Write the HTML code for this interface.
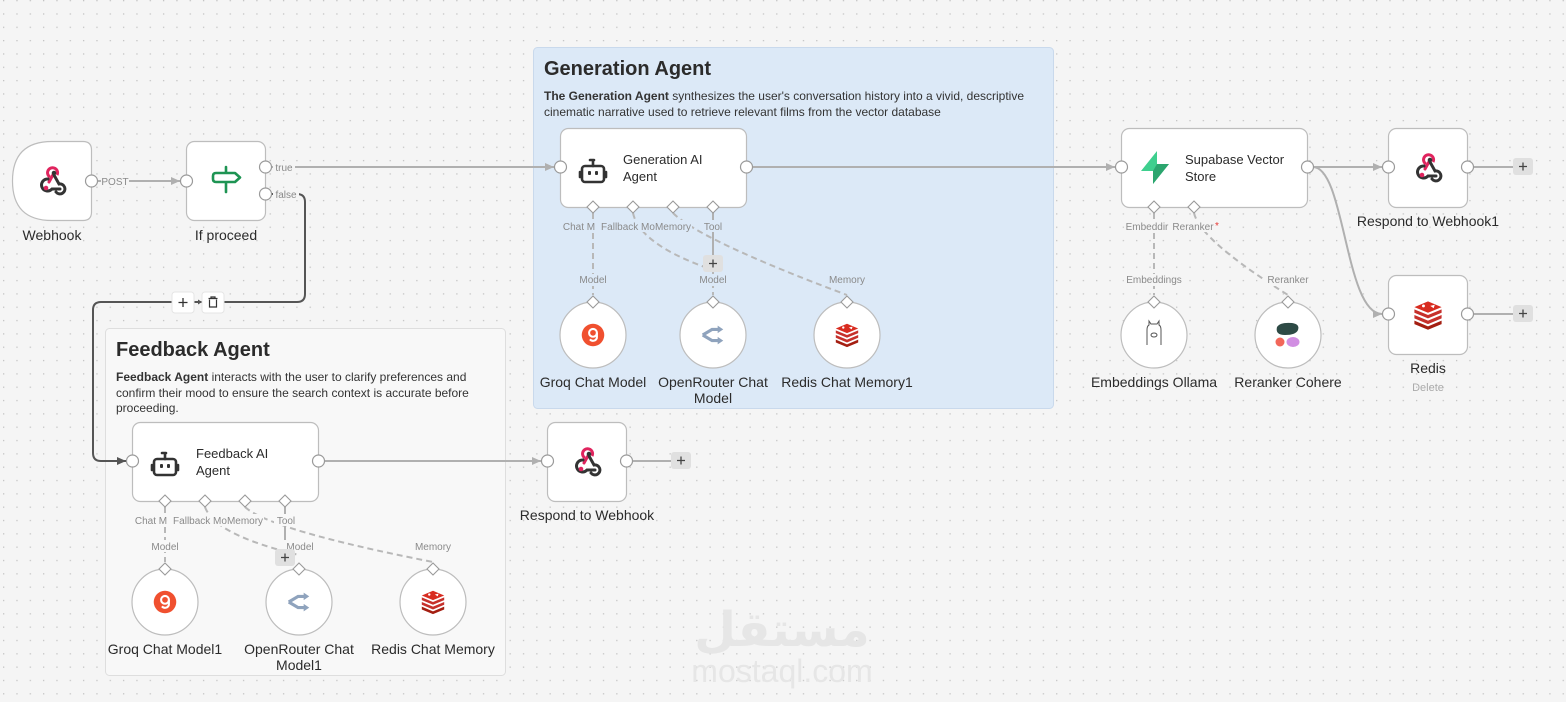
<!DOCTYPE html>
<html><head><meta charset="utf-8"><style>
html,body{margin:0;padding:0;background:#f5f5f5;}
svg{display:block;font-family:"Liberation Sans","DejaVu Sans","Noto Sans CJK SC",sans-serif;}
.nl{font-size:14px;fill:#2b2b2b;text-anchor:middle;}
.pl{font-size:10px;fill:#8a8a8a;text-anchor:middle;}
.node{fill:#fff;stroke:#bdbdbd;stroke-width:1.2;}
.port{fill:#fff;stroke:#9a9a9a;stroke-width:1.2;}
.dia{fill:#fff;stroke:#9a9a9a;stroke-width:1.1;}
.cn{fill:none;stroke:#b0b0b0;stroke-width:2;}
.dash{fill:none;stroke:#b8b8b8;stroke-width:2;stroke-dasharray:6,4;}
</style></head><body>
<svg width="1566" height="702" viewBox="0 0 1566 702" xmlns="http://www.w3.org/2000/svg">
<defs>
<pattern id="dots" x="3" y="0" width="13.33" height="13.33" patternUnits="userSpaceOnUse"><rect x="0" y="0" width="1.3" height="1.3" fill="#c4c4c4"/></pattern>
<symbol id="wh" viewBox="0 0 30 30">
  <path d="M12 16 L17 7" stroke="#e0245e" stroke-width="3" fill="none" stroke-linecap="round"/>
  <path d="M13 11 A5 5 0 1 1 20 9" stroke="#e0245e" stroke-width="3" fill="none"/>
  <circle cx="17" cy="7" r="2.3" fill="#333"/>
  <path d="M11 13 A6 6 0 1 0 15 23 L23 23" stroke="#333" stroke-width="3" fill="none" stroke-linecap="round"/>
  <path d="M17 9 L22 18 A5 5 0 1 1 19 26" stroke="#333" stroke-width="3" fill="none" stroke-linecap="round"/>
  <circle cx="9" cy="22" r="2.3" fill="#e0245e"/>
</symbol>
<symbol id="bot" viewBox="0 0 30 30">
  <rect x="4" y="10" width="22" height="16" rx="3" fill="none" stroke="#333" stroke-width="2.6"/>
  <path d="M15 10 V5 M12 4 H16" stroke="#333" stroke-width="2.6" fill="none" stroke-linecap="round"/>
  <path d="M2 16 V21 M28 16 V21" stroke="#333" stroke-width="2.6" stroke-linecap="round"/>
  <rect x="10" y="15" width="3" height="4" rx="1" fill="#333"/><rect x="17" y="15" width="3" height="4" rx="1" fill="#333"/>
</symbol>
<symbol id="groq" viewBox="0 0 30 30">
  <circle cx="15" cy="15" r="13" fill="#f0502f"/>
  <circle cx="15" cy="12.5" r="4.5" fill="none" stroke="#fff" stroke-width="2.4"/>
  <path d="M19.5 12.5 V17 A4.5 4.5 0 0 1 11.5 20" fill="none" stroke="#fff" stroke-width="2.4"/>
</symbol>
<symbol id="or" viewBox="0 0 30 30">
  <path d="M4 15 L14 9 H22 M4 15 L14 21 H22" fill="none" stroke="#8fa3bd" stroke-width="3.4"/>
  <path d="M20 5 L26 9 L20 13 Z M20 17 L26 21 L20 25 Z" fill="#8fa3bd"/>
</symbol>
<symbol id="redis" viewBox="0 0 30 30">
  <path d="M3 20 L15 25 L27 20 V23 L15 28 L3 23Z" fill="#a41e11"/>
  <path d="M3 15 L15 20 L27 15 V18 L15 23 L3 18Z" fill="#c6302b"/>
  <path d="M3 10 L15 15 L27 10 V13 L15 18 L3 13Z" fill="#c6302b"/>
  <path d="M3 8 L15 3 L27 8 L15 13Z" fill="#d82c20"/>
  <circle cx="11" cy="7" r="1.3" fill="#fff"/><path d="M17 7 L21 6 L20 9Z" fill="#fff"/>
</symbol>
<symbol id="plus" viewBox="0 0 20 20"><rect x="0" y="0" width="20" height="17" rx="3" fill="#e0e0e0"/><path d="M10 4.5 V12.5 M6 8.5 H14" stroke="#444" stroke-width="1.3"/></symbol>
<marker id="ar" markerWidth="10" markerHeight="10" refX="9" refY="5" orient="auto" markerUnits="userSpaceOnUse"><path d="M0 1 L9 5 L0 9Z" fill="#b0b0b0"/></marker>
<marker id="ard" markerWidth="10" markerHeight="10" refX="9" refY="5" orient="auto" markerUnits="userSpaceOnUse"><path d="M0 1 L9 5 L0 9Z" fill="#555"/></marker>
</defs>
<rect width="1566" height="702" fill="#f5f5f5"/>
<rect width="1566" height="702" fill="url(#dots)"/>

<!-- watermark -->
<text x="782" y="646" font-size="48" font-weight="bold" fill="#e6e6e6" text-anchor="middle" font-family="'DejaVu Sans',sans-serif">مستقل</text>
<text x="782" y="682" font-size="32" fill="#e6e6e6" text-anchor="middle">mostaql.com</text>

<!-- stickies -->
<rect x="533.5" y="47.5" width="520" height="361" rx="4" fill="#dce9f7" stroke="#c9d9ec"/>
<text x="544" y="75" font-size="20" font-weight="bold" fill="#2b2b2b">Generation Agent</text>
<text x="544" y="100" font-size="12" fill="#333"><tspan font-weight="bold">The Generation Agent</tspan> synthesizes the user's conversation history into a vivid, descriptive</text>
<text x="544" y="116" font-size="12" fill="#333">cinematic narrative used to retrieve relevant films from the vector database</text>

<rect x="105.5" y="328.5" width="400" height="347" rx="4" fill="#f8f8f8" stroke="#dedede"/>
<text x="116" y="356" font-size="20" font-weight="bold" fill="#2b2b2b">Feedback Agent</text>
<text x="116" y="381" font-size="12" fill="#333"><tspan font-weight="bold">Feedback Agent</tspan> interacts with the user to clarify preferences and</text>
<text x="116" y="397" font-size="12" fill="#333">confirm their mood to ensure the search context is accurate before</text>
<text x="116" y="412" font-size="12" fill="#333">proceeding.</text>

<!-- main connections -->
<path class="cn" d="M97 181 H180" marker-end="url(#ar)"/>
<path class="cn" d="M271 167 H554" marker-end="url(#ar)"/>
<path d="M271 194 H297 Q305 194 305 202 V294 Q305 302 297 302 H101 Q93 302 93 310 V453 Q93 461 101 461 H126" fill="none" stroke="#555" stroke-width="2" marker-end="url(#ard)"/>
<path class="cn" d="M752 167 H1115" marker-end="url(#ar)"/>
<path class="cn" d="M1313 167 H1382" marker-end="url(#ar)"/>
<path class="cn" d="M1313 167 C1345 167 1345 314 1382 314" marker-end="url(#ar)"/>
<path class="cn" d="M1473 167 H1514"/>
<path class="cn" d="M1473 314 H1514"/>
<path class="cn" d="M324 461 H541" marker-end="url(#ar)"/>
<path class="cn" d="M632 461 H672"/>
<use href="#plus" x="1513" y="158" width="20" height="20"/>
<use href="#plus" x="1513" y="305" width="20" height="20"/>
<use href="#plus" x="671" y="452" width="20" height="20"/>
<!-- + / trash -->
<rect x="172" y="292" width="22" height="21" rx="3" fill="#fff" stroke="#e5e5e5"/>
<path d="M183 298 V307 M178.5 302.5 H187.5" stroke="#333" stroke-width="1.3"/>
<path d="M202 302 L198 299.5 V304.5Z" fill="#555"/>
<rect x="202" y="292" width="22" height="21" rx="3" fill="#fff" stroke="#e5e5e5"/>
<path d="M208.5 298.5 H217.5 M211 298.5 V297 H215 V298.5 M209.5 299.5 V307 H216.5 V299.5" stroke="#333" stroke-width="1.2" fill="none"/>

<!-- port labels on main -->
<rect x="101" y="175" width="28" height="12" fill="#f5f5f5"/><text class="pl" x="115" y="185">POST</text>
<rect x="273" y="161" width="22" height="12" fill="#f5f5f5"/><text class="pl" x="284" y="171">true</text>
<rect x="273" y="188" width="26" height="12" fill="#f5f5f5"/><text class="pl" x="286" y="198">false</text>

<!-- Webhook -->
<path class="node" d="M52 141.5 H83 Q91.5 141.5 91.5 150 V212 Q91.5 220.5 83 220.5 H52 Q12.5 220.5 12.5 181 Q12.5 141.5 52 141.5Z"/>
<use href="#wh" x="37" y="166" width="30" height="30"/>
<circle class="port" cx="91.5" cy="181" r="6"/>
<text class="nl" x="52" y="240">Webhook</text>

<!-- If -->
<rect class="node" x="186.5" y="141.5" width="79" height="79" rx="8"/>
<path d="M213 176 Q213 173 216 173 H235 L240 177.5 L235 182 H216 Q213 182 213 179Z M226 167 V173 M226 182 V192" fill="none" stroke="#1e9453" stroke-width="2.6" stroke-linejoin="round" stroke-linecap="round"/>
<circle class="port" cx="186.5" cy="181" r="6"/>
<circle class="port" cx="265.5" cy="167" r="6"/>
<circle class="port" cx="265.5" cy="194" r="6"/>
<text class="nl" x="226" y="240">If proceed</text>

<!-- Generation AI Agent -->
<path class="dash" d="M593 213 V295"/>
<path class="dash" d="M633 213 Q640 245 713 270"/>
<path class="dash" d="M673 213 Q700 240 847 295"/>
<path d="M713 213 V256" stroke="#b0b0b0" stroke-width="2"/>
<path class="dash" d="M713 272 V295"/>
<rect class="node" x="560.5" y="128.5" width="186" height="79" rx="8"/>
<use href="#bot" x="578" y="156" width="30" height="30"/>
<text x="623" y="164" font-size="13" fill="#2b2b2b">Generation AI</text>
<text x="623" y="181" font-size="13" fill="#2b2b2b">Agent</text>
<circle class="port" cx="560.5" cy="167" r="6"/>
<circle class="port" cx="746.5" cy="167" r="6"/>
<g class="dia"><path d="M593 201 L599 207 L593 213 L587 207Z"/><path d="M633 201 L639 207 L633 213 L627 207Z"/><path d="M673 201 L679 207 L673 213 L667 207Z"/><path d="M713 201 L719 207 L713 213 L707 207Z"/></g>
<rect x="562" y="220" width="130" height="12" fill="#dce9f7"/>
<text class="pl" x="579" y="230">Chat M</text><text class="pl" x="628" y="230">Fallback Mo</text><text class="pl" x="673" y="230">Memory</text>
<rect x="702" y="220" width="22" height="12" fill="#dce9f7"/><text class="pl" x="713" y="230">Tool</text>
<use href="#plus" x="703" y="255" width="20" height="20"/>
<rect x="576" y="274" width="34" height="12" fill="#dce9f7"/><text class="pl" x="593" y="283">Model</text>
<rect x="696" y="274" width="34" height="12" fill="#dce9f7"/><text class="pl" x="713" y="283">Model</text>
<rect x="826" y="274" width="42" height="12" fill="#dce9f7"/><text class="pl" x="847" y="283">Memory</text>

<circle class="node" cx="593" cy="335" r="33"/><use href="#groq" x="580" y="322" width="26" height="26"/>
<circle class="node" cx="713" cy="335" r="33"/><use href="#or" x="699" y="321" width="28" height="28"/>
<circle class="node" cx="847" cy="335" r="33"/><use href="#redis" x="833" y="321" width="28" height="28"/>
<g class="dia"><path d="M593 296 L599 302 L593 308 L587 302Z"/><path d="M713 296 L719 302 L713 308 L707 302Z"/><path d="M847 296 L853 302 L847 308 L841 302Z"/></g>
<text class="nl" x="593" y="387">Groq Chat Model</text>
<text class="nl" x="713" y="387">OpenRouter Chat</text><text class="nl" x="713" y="403">Model</text>
<text class="nl" x="847" y="387">Redis Chat Memory1</text>

<!-- Supabase -->
<path class="dash" d="M1154 213 V295"/>
<path class="dash" d="M1194 213 Q1200 240 1288 295"/>
<rect class="node" x="1121.5" y="128.5" width="186" height="79" rx="8"/>
<path d="M1157 151 L1141 171 H1153 V184 L1169 164 H1157Z" fill="#3ecf8e"/>
<path d="M1153 171 V184 L1169 164 H1157Z" fill="#249361" opacity="0.7"/>
<text x="1185" y="164" font-size="13" fill="#2b2b2b">Supabase Vector</text>
<text x="1185" y="181" font-size="13" fill="#2b2b2b">Store</text>
<circle class="port" cx="1121.5" cy="167" r="6"/>
<circle class="port" cx="1307.5" cy="167" r="6"/>
<g class="dia"><path d="M1154 201 L1160 207 L1154 213 L1148 207Z"/><path d="M1194 201 L1200 207 L1194 213 L1188 207Z"/></g>
<rect x="1124" y="220" width="94" height="12" fill="#f5f5f5"/>
<text class="pl" x="1147" y="230">Embeddir</text><text class="pl" x="1193" y="230">Reranker</text><text x="1215" y="229" font-size="10" fill="#e53935">*</text>
<rect x="1124" y="274" width="60" height="12" fill="#f5f5f5"/><text class="pl" x="1154" y="283">Embeddings</text>
<rect x="1265" y="274" width="46" height="12" fill="#f5f5f5"/><text class="pl" x="1288" y="283">Reranker</text>
<circle class="node" cx="1154" cy="335" r="33"/>
<g fill="none" stroke="#555" stroke-width="1"><path d="M1147 345 V330 Q1147 326 1149 325 V321 L1151 324 H1157 L1159 321 V325 Q1161 326 1161 330 V345"/><ellipse cx="1154" cy="335" rx="3" ry="2"/></g>
<circle class="node" cx="1288" cy="335" r="33"/>
<path d="M1277 327 Q1280 322 1292 323 Q1300 324 1298 330 Q1296 335 1285 335 Q1275 335 1277 327Z" fill="#2d4a45"/>
<circle cx="1280" cy="342" r="4.5" fill="#f2675a"/>
<ellipse cx="1293" cy="342" rx="6.5" ry="5" fill="#d18ee2"/>
<g class="dia"><path d="M1154 296 L1160 302 L1154 308 L1148 302Z"/><path d="M1288 296 L1294 302 L1288 308 L1282 302Z"/></g>
<text class="nl" x="1154" y="387">Embeddings Ollama</text>
<text class="nl" x="1288" y="387">Reranker Cohere</text>

<!-- Respond1 / Redis -->
<rect class="node" x="1388.5" y="128.5" width="79" height="79" rx="8"/>
<use href="#wh" x="1413" y="153" width="30" height="30"/>
<circle class="port" cx="1388.5" cy="167" r="6"/><circle class="port" cx="1467.5" cy="167" r="6"/>
<text class="nl" x="1428" y="226">Respond to Webhook1</text>
<rect class="node" x="1388.5" y="275.5" width="79" height="79" rx="8"/>
<use href="#redis" x="1411" y="298" width="34" height="34"/>
<circle class="port" cx="1388.5" cy="314" r="6"/><circle class="port" cx="1467.5" cy="314" r="6"/>
<text class="nl" x="1428" y="373">Redis</text>
<text class="pl" x="1428" y="391" style="font-size:11px;fill:#aaa">Delete</text>

<!-- Feedback AI Agent -->
<path class="dash" d="M165 507 V562"/>
<path class="dash" d="M205 507 Q215 535 299 555"/>
<path class="dash" d="M245 507 Q270 530 433 562"/>
<path d="M285 507 V550" stroke="#b0b0b0" stroke-width="2"/>
<rect class="node" x="132.5" y="422.5" width="186" height="79" rx="8"/>
<use href="#bot" x="150" y="449" width="30" height="30"/>
<text x="196" y="458" font-size="13" fill="#2b2b2b">Feedback AI</text>
<text x="196" y="475" font-size="13" fill="#2b2b2b">Agent</text>
<circle class="port" cx="132.5" cy="461" r="6"/><circle class="port" cx="318.5" cy="461" r="6"/>
<g class="dia"><path d="M165 495 L171 501 L165 507 L159 501Z"/><path d="M205 495 L211 501 L205 507 L199 501Z"/><path d="M245 495 L251 501 L245 507 L239 501Z"/><path d="M285 495 L291 501 L285 507 L279 501Z"/></g>
<rect x="134" y="514" width="130" height="12" fill="#f8f8f8"/>
<text class="pl" x="151" y="524">Chat M</text><text class="pl" x="200" y="524">Fallback Mo</text><text class="pl" x="245" y="524">Memory</text>
<rect x="274" y="514" width="22" height="12" fill="#f8f8f8"/><text class="pl" x="286" y="524">Tool</text>
<rect x="148" y="540" width="34" height="12" fill="#f8f8f8"/><text class="pl" x="165" y="550">Model</text>
<rect x="283" y="540" width="34" height="12" fill="#f8f8f8"/><text class="pl" x="300" y="550">Model</text>
<rect x="412" y="540" width="42" height="12" fill="#f8f8f8"/><text class="pl" x="433" y="550">Memory</text>
<use href="#plus" x="275" y="549" width="20" height="20"/>
<circle class="node" cx="165" cy="602" r="33"/><use href="#groq" x="152" y="589" width="26" height="26"/>
<circle class="node" cx="299" cy="602" r="33"/><use href="#or" x="285" y="588" width="28" height="28"/>
<circle class="node" cx="433" cy="602" r="33"/><use href="#redis" x="419" y="588" width="28" height="28"/>
<g class="dia"><path d="M165 563 L171 569 L165 575 L159 569Z"/><path d="M299 563 L305 569 L299 575 L293 569Z"/><path d="M433 563 L439 569 L433 575 L427 569Z"/></g>
<text class="nl" x="165" y="654">Groq Chat Model1</text>
<text class="nl" x="299" y="654">OpenRouter Chat</text><text class="nl" x="299" y="670">Model1</text>
<text class="nl" x="433" y="654">Redis Chat Memory</text>

<!-- Respond to Webhook -->
<rect class="node" x="547.5" y="422.5" width="79" height="79" rx="8"/>
<use href="#wh" x="572" y="447" width="30" height="30"/>
<circle class="port" cx="547.5" cy="461" r="6"/><circle class="port" cx="626.5" cy="461" r="6"/>
<text class="nl" x="587" y="520">Respond to Webhook</text>
</svg>
</body></html>
